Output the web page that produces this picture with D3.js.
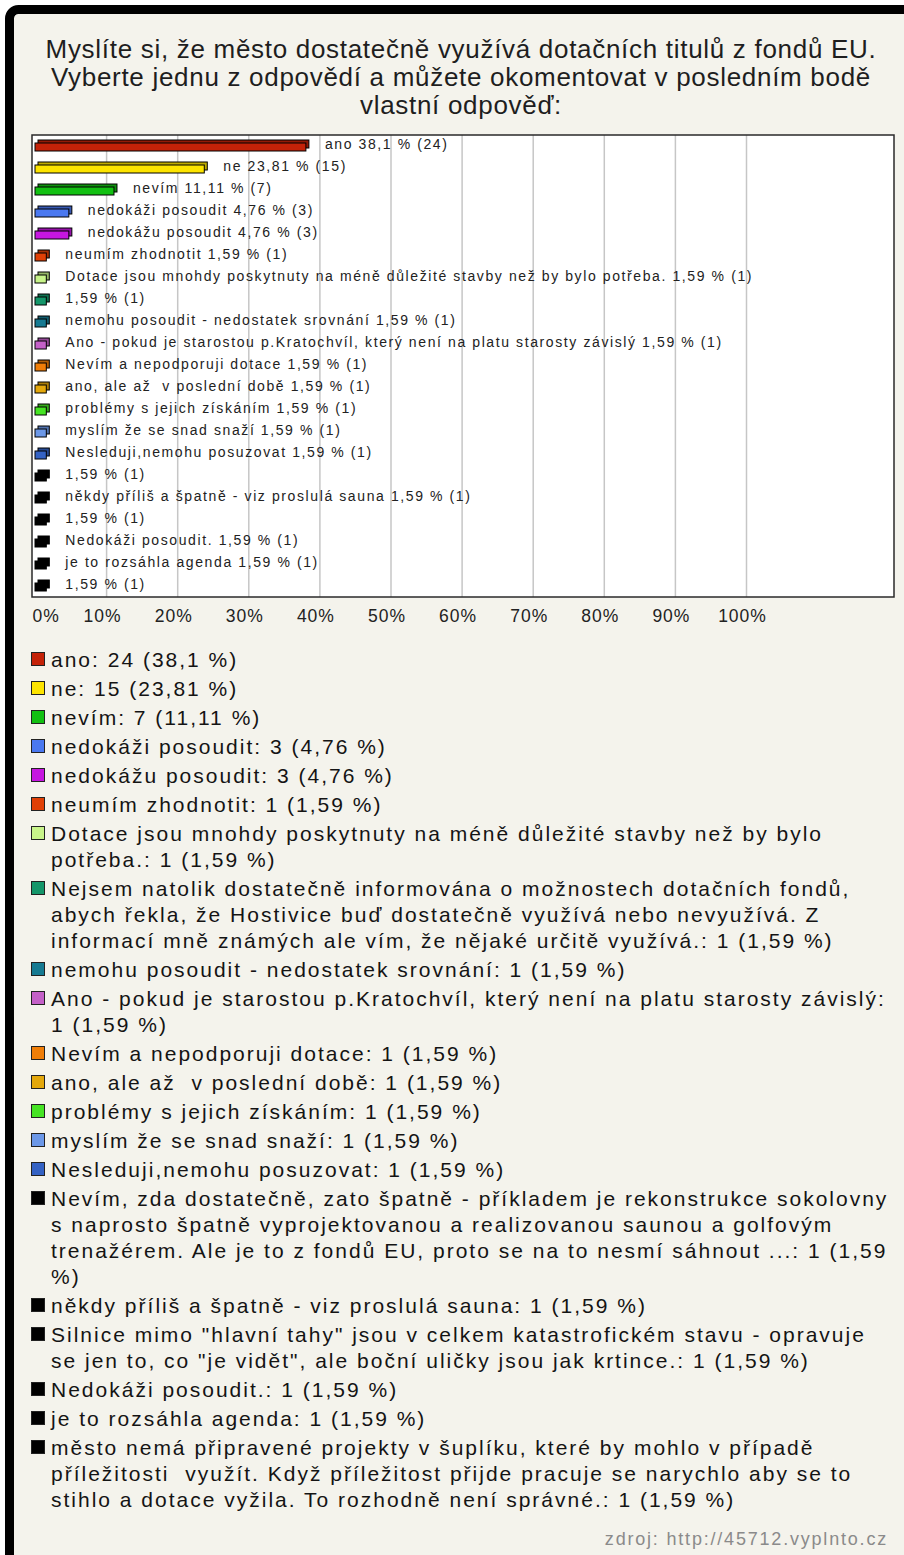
<!DOCTYPE html>
<html><head><meta charset="utf-8">
<script src="https://cdn.jsdelivr.net/npm/d3@7"></script>
<style>
html,body{margin:0;padding:0;background:#fff;}
text{white-space:pre;}
</style></head>
<body>
<svg id="chart" width="904" height="1555"></svg>
<script>
const titleLines = [
  "Myslíte si, že město dostatečně využívá dotačních titulů z fondů EU.",
  "Vyberte jednu z odpovědí a můžete okomentovat v posledním bodě",
  "vlastní odpověď:"
];
const categories = [
  "ano",
  "ne",
  "nevím",
  "nedokáži posoudit",
  "nedokážu posoudit",
  "neumím zhodnotit",
  "Dotace jsou mnohdy poskytnuty na méně důležité stavby než by bylo potřeba.",
  "Nejsem natolik dostatečně informována o možnostech dotačních fondů, abych řekla, že Hostivice buď dostatečně využívá nebo nevyužívá. Z informací mně známých ale vím, že nějaké určitě využívá.",
  "nemohu posoudit - nedostatek srovnání",
  "Ano - pokud je starostou p.Kratochvíl, který není na platu starosty závislý",
  "Nevím a nepodporuji dotace",
  "ano, ale až  v poslední době",
  "problémy s jejich získáním",
  "myslím že se snad snaží",
  "Nesleduji,nemohu posuzovat",
  "Nevím, zda dostatečně, zato špatně - příkladem je rekonstrukce sokolovny s naprosto špatně vyprojektovanou a realizovanou saunou a golfovým trenažérem. Ale je to z fondů EU, proto se na to nesmí sáhnout ...",
  "někdy příliš a špatně - viz proslulá sauna",
  "Silnice mimo \"hlavní tahy\" jsou v celkem katastrofickém stavu - opravuje se jen to, co \"je vidět\", ale boční uličky jsou jak krtince.",
  "Nedokáži posoudit.",
  "je to rozsáhla agenda",
  "město nemá připravené projekty v šuplíku, které by mohlo v případě příležitosti  využít. Když příležitost přijde pracuje se narychlo aby se to stihlo a dotace vyžila. To rozhodně není správné."
];
const counts = [24, 15, 7, 3, 3, 1, 1, 1, 1, 1, 1, 1, 1, 1, 1, 1, 1, 1, 1, 1, 1];
const percents = [38.1, 23.81, 11.11, 4.76, 4.76, 1.59, 1.59, 1.59, 1.59, 1.59, 1.59, 1.59, 1.59, 1.59, 1.59, 1.59, 1.59, 1.59, 1.59, 1.59, 1.59];
const colors = [
  "#c42208", "#fde400", "#12c012", "#4a78f0", "#c616e0", "#e04006",
  "#c8f48a", "#14966a", "#167a92", "#c460c8", "#f07e08", "#e4a80c",
  "#46e424", "#6c98e8", "#3462c4", "#000000", "#000000", "#000000",
  "#000000", "#000000", "#000000"
];
const tickValues = [0, 10, 20, 30, 40, 50, 60, 70, 80, 90, 100];
const sourceText = "zdroj: http://45712.vyplnto.cz";

const fmt = v => String(v).replace(".", ",");
const svg = d3.select("#chart");
const W = 904, H = 1555;
const FONT = "'Liberation Sans', Arial, sans-serif";

// frame
svg.append("rect").attr("x", 0).attr("y", 0).attr("width", W).attr("height", H).attr("fill", "#ffffff");
svg.append("rect").attr("x", 9.5).attr("y", 9.5).attr("width", W + 40).attr("height", H + 40)
  .attr("rx", 9).attr("fill", "#f4f3ec").attr("stroke", "#000").attr("stroke-width", 9);

// title
svg.append("g").selectAll("text").data(titleLines).join("text")
  .attr("x", 461).attr("y", (d, i) => 58 + i * 28)
  .attr("text-anchor", "middle")
  .attr("font-family", FONT)
  .attr("font-size", 26).attr("letter-spacing", 0.7)
  .attr("fill", "#1e1e1e").text(d => d);

// scales
const x = d3.scaleLinear().domain([0, 100]).range([35, 746]);
const y = d3.scaleBand().domain(d3.range(categories.length)).range([135, 597]);
const boxL = 32, boxR = 894, boxT = 135, boxB = 597;

svg.append("rect").attr("x", boxL).attr("y", boxT).attr("width", boxR - boxL).attr("height", boxB - boxT)
  .attr("fill", "#fff").attr("stroke", "none");

// grid
const grid = svg.append("g").attr("transform", `translate(0,${boxB})`)
  .call(d3.axisBottom(x).tickValues(tickValues.slice(1)).tickSize(-(boxB - boxT)).tickFormat(""));
grid.select(".domain").remove();
grid.selectAll("line").attr("stroke", "#c6c6c6").attr("stroke-width", 1.5);

// box border
svg.append("rect").attr("x", boxL).attr("y", boxT).attr("width", boxR - boxL).attr("height", boxB - boxT)
  .attr("fill", "none").attr("stroke", "#2a2a2a").attr("stroke-width", 1.5);

// bars (3D look)
const bars = svg.append("g").selectAll("g").data(percents).join("g");
const depth = 3, fh = 8;
bars.append("rect")
  .attr("x", x(0) + depth).attr("y", (d, i) => y(i) + y.bandwidth() / 2 - 3 - depth)
  .attr("width", d => x(d) - x(0)).attr("height", fh)
  .attr("fill", (d, i) => d3.color(colors[i]).darker(0.8)).attr("stroke", "#000").attr("stroke-width", 1);
bars.append("rect")
  .attr("x", x(0)).attr("y", (d, i) => y(i) + y.bandwidth() / 2 - 3)
  .attr("width", d => x(d) - x(0)).attr("height", fh)
  .attr("fill", (d, i) => colors[i]).attr("stroke", "#000").attr("stroke-width", 1);

// bar labels
bars.append("text")
  .attr("x", d => x(d) + 19).attr("y", (d, i) => y(i) + y.bandwidth() / 2 + 3)
  .attr("font-family", FONT)
  .attr("font-size", 14).attr("letter-spacing", 1.6).attr("fill", "#222")
  .text((d, i) => (categories[i].length > 100 ? "" : categories[i] + " ") + fmt(d) + " % (" + counts[i] + ")");

// axis labels
const ax = svg.append("g").attr("transform", `translate(-4,${boxB})`)
  .call(d3.axisBottom(x).tickValues(tickValues).tickSize(0).tickPadding(13).tickFormat(d => d + "%"));
ax.select(".domain").remove();
ax.selectAll("text").attr("font-family", FONT)
  .attr("font-size", 17.5).attr("letter-spacing", 1).attr("fill", "#222")
  .attr("text-anchor", d => d === 0 ? "start" : "middle")
  .attr("dx", d => d === 0 ? 1 : 0);

// legend
const leg = svg.append("g");
const legFont = 21, legLS = 2.0, maxW = 838, legX = 51;
let cy = 667;
const meas = svg.append("text").attr("font-family", FONT)
  .attr("font-size", legFont).attr("letter-spacing", legLS).attr("visibility", "hidden");
function wrap(str) {
  const words = str.split(" ");
  const lines = [];
  let cur = "";
  for (const w of words) {
    const test = cur === "" ? w : cur + " " + w;
    meas.text(test);
    if (meas.node().getComputedTextLength() > maxW && cur !== "") {
      lines.push(cur);
      cur = w;
    } else cur = test;
  }
  lines.push(cur);
  return lines;
}
categories.forEach((c, i) => {
  const label = c + ": " + counts[i] + " (" + fmt(percents[i]) + " %)";
  const lines = wrap(label);
  leg.append("rect").attr("x", 31.5).attr("y", cy - 14.5).attr("width", 13).attr("height", 13)
    .attr("fill", colors[i]).attr("stroke", "#222").attr("stroke-width", 1);
  const t = leg.append("text").attr("font-family", FONT)
    .attr("font-size", legFont).attr("letter-spacing", legLS).attr("fill", "#141414");
  lines.forEach((ln, j) => {
    t.append("tspan").attr("x", legX).attr("y", cy + j * 26).text(ln);
  });
  cy += lines.length * 26 + 3;
});
meas.remove();

svg.append("text").attr("x", 888).attr("y", 1545).attr("text-anchor", "end")
  .attr("font-family", FONT)
  .attr("font-size", 18).attr("letter-spacing", 1.8).attr("fill", "#8a8a8a").text(sourceText);
</script>
</body></html>
